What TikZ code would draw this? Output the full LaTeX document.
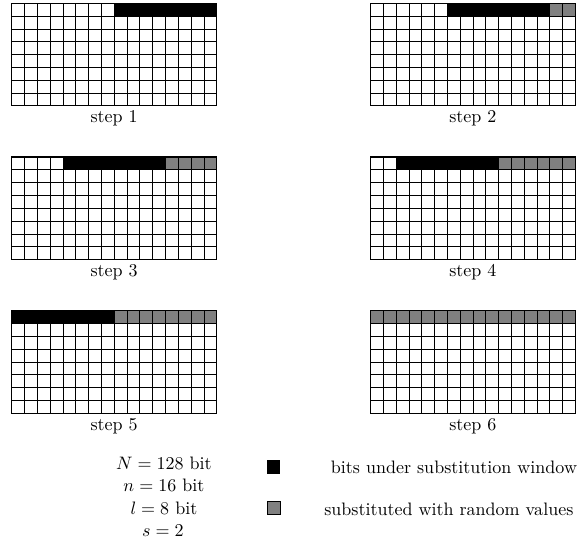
\documentclass[tikz,border=0pt]{standalone}
\usepackage{amsfonts, amssymb,amsmath}
\usepackage{xcolor}
\usetikzlibrary{arrows.meta,shapes}

\begin{document}
\begin{tikzpicture}[cell/.style={line width=0.4pt},frame/.style={line width=0.6pt}]
\useasboundingbox(-0.228,0.064)rectangle(11.089,-10.707);
\foreach \k/\x/\y/\b/\g in {1/0/0/8/16,2/7/0/6/14,3/0/-3/4/12,4/7/-3/2/10,5/0/-6/0/8,6/7/-6/0/0}{
\begin{scope}[shift={(\x,\y)}]
\fill[gray](\g*0.25,0)rectangle(4,-0.25);
\fill[black](\b*0.25,0)rectangle(\g*0.25,-0.25);
\draw[cell](0,-2)grid[step=0.25cm](4,0);
\draw[frame](0,0)rectangle(4,-2);
\node(step\k) at (2,-2.25){step \k};
\end{scope}}
\node(Nval) at (2.97,-8.97){$N=128$ bit};
\node(nval) at (2.97,-9.41){$n=16$ bit};
\node(lval) at (2.97,-9.85){$l=8$ bit};
\node(sval) at (2.95,-10.29){$s=2$};
\fill[black](4.98,-8.92)rectangle(5.24,-9.18);
\filldraw[fill=gray,draw=black,line width=0.4pt](4.98,-9.72)rectangle(5.24,-9.98);
\node(winlbl) at (8.63,-9.06){bits under substitution window};
\node(rndlbl) at (8.53,-9.88){substituted with random values};
\end{tikzpicture}
\end{document}
